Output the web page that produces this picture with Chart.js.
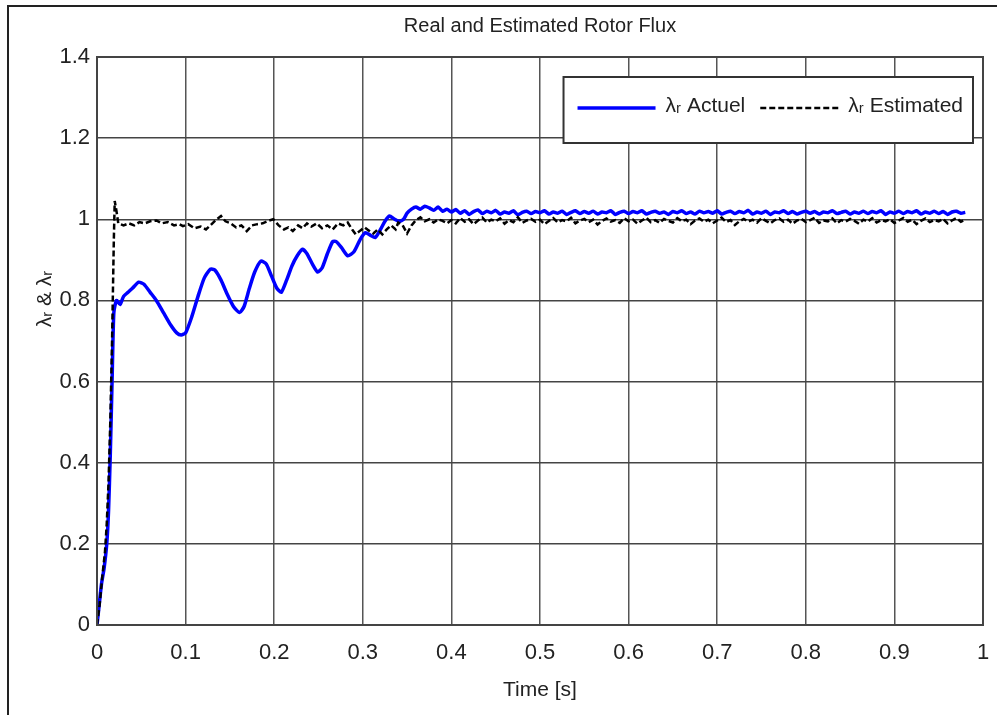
<!DOCTYPE html>
<html>
<head>
<meta charset="utf-8">
<title>Real and Estimated Rotor Flux</title>
<script src="https://cdn.jsdelivr.net/npm/chart.js@4.4.1/dist/chart.umd.min.js"></script>
<style>
  html, body { margin: 0; padding: 0; background: #fff; }
  #graph { display: block; }
</style>
</head>
<body>
<canvas id="graph" width="997" height="715"></canvas>
<script>
// tick labels
const xTicks = [0, 0.1, 0.2, 0.3, 0.4, 0.5, 0.6, 0.7, 0.8, 0.9, 1];
const yTicks = [0, 0.2, 0.4, 0.6, 0.8, 1, 1.2, 1.4];

// series names
const seriesNames = ["\u03bb\u1d63 Actuel", "\u03bb\u1d63 Estimated"];

const actuelTime = [0, 0.002, 0.005, 0.008, 0.011, 0.013, 0.015, 0.017, 0.019, 0.022,
    0.026, 0.030, 0.035, 0.040, 0.047, 0.053, 0.060, 0.067, 0.075, 0.083,
    0.090, 0.095, 0.100, 0.107, 0.114, 0.121, 0.128, 0.133, 0.140, 0.147,
    0.154, 0.161, 0.166, 0.172, 0.178, 0.185, 0.191, 0.197, 0.203, 0.208,
    0.214, 0.220, 0.226, 0.232, 0.237, 0.243, 0.249, 0.254, 0.260, 0.266,
    0.270, 0.276, 0.283, 0.290, 0.297, 0.303, 0.309, 0.314, 0.320, 0.325,
    0.330, 0.336, 0.341, 0.346, 0.350, 0.355, 0.360, 0.365, 0.370, 0.375,
    0.380, 0.385, 0.390, 0.395];
const actuelFlux = [0, 0.04, 0.10, 0.14, 0.20, 0.28, 0.42, 0.60, 0.77, 0.80,
    0.79, 0.81, 0.82, 0.83, 0.845, 0.84, 0.82, 0.80, 0.77, 0.74,
    0.72, 0.715, 0.72, 0.76, 0.81, 0.855, 0.877, 0.875, 0.85, 0.815,
    0.785, 0.77, 0.785, 0.83, 0.87, 0.897, 0.89, 0.86, 0.83, 0.82,
    0.85, 0.885, 0.91, 0.926, 0.915, 0.89, 0.87, 0.88, 0.915, 0.945,
    0.945, 0.93, 0.91, 0.92, 0.95, 0.967, 0.96, 0.955, 0.975, 0.995,
    1.008, 1.0, 0.995, 1.0, 1.015, 1.025, 1.03, 1.025, 1.032, 1.028,
    1.022, 1.03, 1.02, 1.025];

// transient part of the estimated flux
const estTime = [0, 0.003, 0.006, 0.009, 0.011, 0.013, 0.015, 0.017, 0.019, 0.020,
    0.022, 0.024, 0.030, 0.036, 0.042, 0.048, 0.054, 0.060, 0.067, 0.073,
    0.080, 0.087, 0.093, 0.097, 0.103, 0.110, 0.117, 0.123, 0.128, 0.134,
    0.140, 0.145, 0.151, 0.157, 0.163, 0.169, 0.175, 0.181, 0.187, 0.193,
    0.199, 0.205, 0.211, 0.216, 0.221, 0.227, 0.232, 0.237, 0.242, 0.248,
    0.254, 0.260, 0.266, 0.272, 0.278, 0.283, 0.288, 0.292, 0.297, 0.302,
    0.307, 0.312, 0.317, 0.322, 0.327, 0.332, 0.337, 0.340, 0.345, 0.350,
    0.355, 0.360, 0.365, 0.370, 0.375, 0.380, 0.385, 0.390, 0.395];
const estFlux = [0, 0.05, 0.12, 0.18, 0.25, 0.35, 0.50, 0.70, 0.95, 1.045,
    1.02, 0.99, 0.985, 0.99, 0.985, 0.993, 0.99, 0.995, 0.997, 0.99,
    0.993, 0.985, 0.988, 0.983, 0.988, 0.978, 0.982, 0.975, 0.985, 0.998,
    1.008, 0.995, 0.99, 0.98, 0.985, 0.971, 0.985, 0.988, 0.99, 0.996,
    1.0, 0.985, 0.975, 0.98, 0.971, 0.985, 0.978, 0.99, 0.982, 0.99,
    0.978, 0.985, 0.975, 0.99, 0.985, 0.992, 0.975, 0.963, 0.972, 0.98,
    0.972, 0.965, 0.975, 0.963, 0.975, 0.985, 0.975, 0.992, 0.985, 0.965,
    0.985, 0.998, 1.005, 0.995, 1.0, 0.992, 1.0, 0.996, 0.99];

// steady state part, same time base for both signals
const steadyTime = [0.400, 0.405, 0.410, 0.415, 0.420, 0.425, 0.430, 0.435, 0.440, 0.445,
    0.450, 0.455, 0.460, 0.465, 0.470, 0.475, 0.480, 0.485, 0.490, 0.495,
    0.500, 0.505, 0.510, 0.515, 0.520, 0.525, 0.530, 0.535, 0.540, 0.545,
    0.550, 0.555, 0.560, 0.565, 0.570, 0.575, 0.580, 0.585, 0.590, 0.595,
    0.600, 0.605, 0.610, 0.615, 0.620, 0.625, 0.630, 0.635, 0.640, 0.645,
    0.650, 0.655, 0.660, 0.665, 0.670, 0.675, 0.680, 0.685, 0.690, 0.695,
    0.700, 0.705, 0.710, 0.715, 0.720, 0.725, 0.730, 0.735, 0.740, 0.745,
    0.750, 0.755, 0.760, 0.765, 0.770, 0.775, 0.780, 0.785, 0.790, 0.795,
    0.800, 0.805, 0.810, 0.815, 0.820, 0.825, 0.830, 0.835, 0.840, 0.845,
    0.850, 0.855, 0.860, 0.865, 0.870, 0.875, 0.880, 0.885, 0.890, 0.895,
    0.900, 0.905, 0.910, 0.915, 0.920, 0.925, 0.930, 0.935, 0.940, 0.945,
    0.950, 0.955, 0.960, 0.965, 0.970, 0.975, 0.980];
const actuelSteady = [1.018, 1.024, 1.015, 1.021, 1.012, 1.019, 1.023, 1.014, 1.02, 1.016,
    1.022, 1.013, 1.018, 1.015, 1.021, 1.011, 1.017, 1.02, 1.014, 1.019,
    1.016, 1.021, 1.013, 1.018, 1.015, 1.02, 1.012, 1.017, 1.021, 1.014,
    1.019, 1.015, 1.02, 1.013, 1.018, 1.016, 1.021, 1.012, 1.017, 1.02,
    1.014, 1.019, 1.016, 1.021, 1.013, 1.017, 1.02, 1.015, 1.018, 1.012,
    1.019, 1.016, 1.021, 1.014, 1.018, 1.013, 1.02, 1.016, 1.019, 1.015,
    1.021, 1.013, 1.017, 1.02, 1.014, 1.019, 1.016, 1.022, 1.013, 1.018,
    1.015, 1.02, 1.012, 1.018, 1.016, 1.021, 1.014, 1.019, 1.013, 1.017,
    1.02, 1.015, 1.019, 1.013, 1.018, 1.016, 1.021, 1.014, 1.017, 1.02,
    1.013, 1.018, 1.015, 1.02, 1.014, 1.019, 1.016, 1.021, 1.012, 1.018,
    1.015, 1.02, 1.014, 1.019, 1.016, 1.021, 1.013, 1.018, 1.015, 1.02,
    1.014, 1.019, 1.012, 1.018, 1.02, 1.015, 1.017];
const estSteady = [0.998, 0.99, 1.003, 0.994, 1.0, 0.988, 0.997, 1.004, 0.992, 0.999,
    0.995, 1.002, 0.989, 0.998, 0.993, 1.005, 0.991, 0.997, 1.001, 0.994,
    0.999, 0.988, 0.996, 1.003, 0.992, 0.998, 0.995, 1.004, 0.99, 0.997,
    1.001, 0.993, 0.999, 0.987, 0.996, 1.002, 0.994, 0.998, 0.991, 1.003,
    0.995, 0.999, 0.989, 0.997, 1.004, 0.993, 0.998, 0.991, 1.001, 0.996,
    0.992, 1.003, 0.995, 0.999, 0.988, 0.997, 1.002, 0.994, 0.999, 0.99,
    0.997, 1.004, 0.993, 0.998, 0.986, 0.995, 1.001, 0.994, 0.999, 0.992,
    1.003, 0.996, 0.99, 0.998, 1.002, 0.994, 0.999, 0.989, 0.997, 1.001,
    0.993, 0.998, 1.004, 0.991, 0.997, 0.995, 1.002, 0.99, 0.998, 0.994,
    1.001, 0.996, 0.989, 0.999, 0.994, 1.003, 0.992, 0.998, 0.995, 1.0,
    0.991, 0.997, 1.003, 0.994, 0.999, 0.988, 0.996, 1.002, 0.993, 0.998,
    0.995, 1.001, 0.99, 0.997, 1.003, 0.994, 0.999];

const FONT = "'Liberation Sans', 'DejaVu Sans', sans-serif";

//join time and value arrays into {x, y} points
const toPoints = (times, values) => times.map((t, i) => ({ x: t, y: values[i] }));

const actuelPoints = toPoints(actuelTime, actuelFlux).concat(toPoints(steadyTime, actuelSteady));
const estPoints = toPoints(estTime, estFlux).concat(toPoints(steadyTime, estSteady));

const fmt = v => String(+v.toFixed(1));

//outer figure frame and the axes box
const framePlugin = {
    id: 'frame',
    beforeDraw(chart) {
        const ctx = chart.ctx;
        ctx.save();
        ctx.strokeStyle = '#222';
        ctx.lineWidth = 2;
        ctx.beginPath();
        ctx.moveTo(8, 715);
        ctx.lineTo(8, 6);
        ctx.lineTo(997, 6);
        ctx.stroke();
        ctx.restore();
    },
    afterDatasetsDraw(chart) {
        const { ctx, chartArea: a } = chart;
        ctx.save();
        ctx.strokeStyle = '#444';
        ctx.lineWidth = 2;
        ctx.strokeRect(a.left, a.top, a.right - a.left, a.bottom - a.top);
        ctx.restore();
    }
};

//matlab style legend box inside the axes
const legendBoxPlugin = {
    id: 'legendBox',
    afterDatasetsDraw(chart) {
        const { ctx, chartArea: a } = chart;
        const lineLen = 78;
        ctx.save();
        ctx.font = "21px " + FONT;
        const w1 = ctx.measureText(seriesNames[0]).width;
        const w2 = ctx.measureText(seriesNames[1]).width;
        const width = 14 + lineLen + 10 + w1 + 15 + lineLen + 10 + w2 + 10;
        const right = a.right - 10;
        const left = right - width;
        const top = a.top + 20;
        const height = 66;
        const cy = top + 29;

        ctx.fillStyle = '#fff';
        ctx.fillRect(left, top, width, height);
        ctx.strokeStyle = '#333';
        ctx.lineWidth = 2;
        ctx.strokeRect(left, top, width, height);

        const sets = chart.data.datasets;
        let x = left + 14;
        [w1, w2].forEach((w, i) => {
            const ds = sets[i];
            ctx.beginPath();
            ctx.strokeStyle = ds.borderColor;
            ctx.lineWidth = ds.borderWidth;
            ctx.setLineDash(ds.borderDash || []);
            ctx.moveTo(x, cy + 2);
            ctx.lineTo(x + lineLen, cy + 2);
            ctx.stroke();
            ctx.setLineDash([]);
            x += lineLen + 10;
            ctx.fillStyle = '#222';
            ctx.textBaseline = 'middle';
            ctx.textAlign = 'left';
            ctx.fillText(seriesNames[i], x, cy);
            x += w + 15;
        });
        ctx.restore();
    }
};

new Chart(document.getElementById("graph"), {
    type: 'line',
    data: {
        datasets: [
            {
                label: seriesNames[0],
                data: actuelPoints,
                borderColor: '#0000ff',
                borderWidth: 3.5,
                pointRadius: 0,
                tension: 0.2,
                fill: false,
                order: 2
            },
            {
                label: seriesNames[1],
                data: estPoints,
                borderColor: '#000000',
                borderWidth: 2.5,
                borderDash: [6, 3],
                pointRadius: 0,
                tension: 0,
                fill: false,
                order: 1
            }
        ]
    },
    options: {
        responsive: false,
        animation: false,
        layout: { padding: 0 },
        plugins: {
            legend: { display: false },
            tooltip: { enabled: false },
            title: {
                display: true,
                fullSize: false,
                text: 'Real and Estimated Rotor Flux',
                color: '#222',
                font: { family: FONT, size: 20, weight: 'normal' },
                padding: { top: 14, bottom: 19 }
            }
        },
        scales: {
            x: {
                type: 'linear',
                min: 0,
                max: 1,
                afterBuildTicks: scale => { scale.ticks = xTicks.map(v => ({ value: v })); },
                afterFit: scale => {
                    scale.height = 90;
                    scale.paddingRight = 14;
                },
                ticks: {
                    callback: fmt,
                    color: '#222',
                    maxRotation: 0,
                    autoSkip: false,
                    padding: 15,
                    font: { family: FONT, size: 22 }
                },
                grid: { color: '#555', lineWidth: 1.5, drawTicks: false },
                border: { display: false },
                title: {
                    display: true,
                    text: 'Time [s]',
                    color: '#222',
                    font: { family: FONT, size: 21 },
                    padding: { top: 0, bottom: 12 }
                }
            },
            y: {
                type: 'linear',
                min: 0,
                max: 1.4,
                afterBuildTicks: scale => { scale.ticks = yTicks.map(v => ({ value: v })); },
                afterFit: scale => { scale.width = 97; },
                ticks: {
                    callback: fmt,
                    color: '#222',
                    autoSkip: false,
                    padding: 7,
                    font: { family: FONT, size: 22 }
                },
                grid: { color: '#444', lineWidth: 1.5, drawTicks: false },
                border: { display: false },
                title: {
                    display: true,
                    // leading en spaces lift the label above the axis middle, as in the figure
                    text: '\u2002\u2002\u2002\u2002\u2002\u2002\u2002\u2002\u03bb\u1d63 & \u03bb\u1d63',
                    color: '#222',
                    font: { family: FONT, size: 21 },
                    padding: { top: 33, bottom: 0 }
                }
            }
        }
    },
    plugins: [framePlugin, legendBoxPlugin]
});
</script>
</body>
</html>
